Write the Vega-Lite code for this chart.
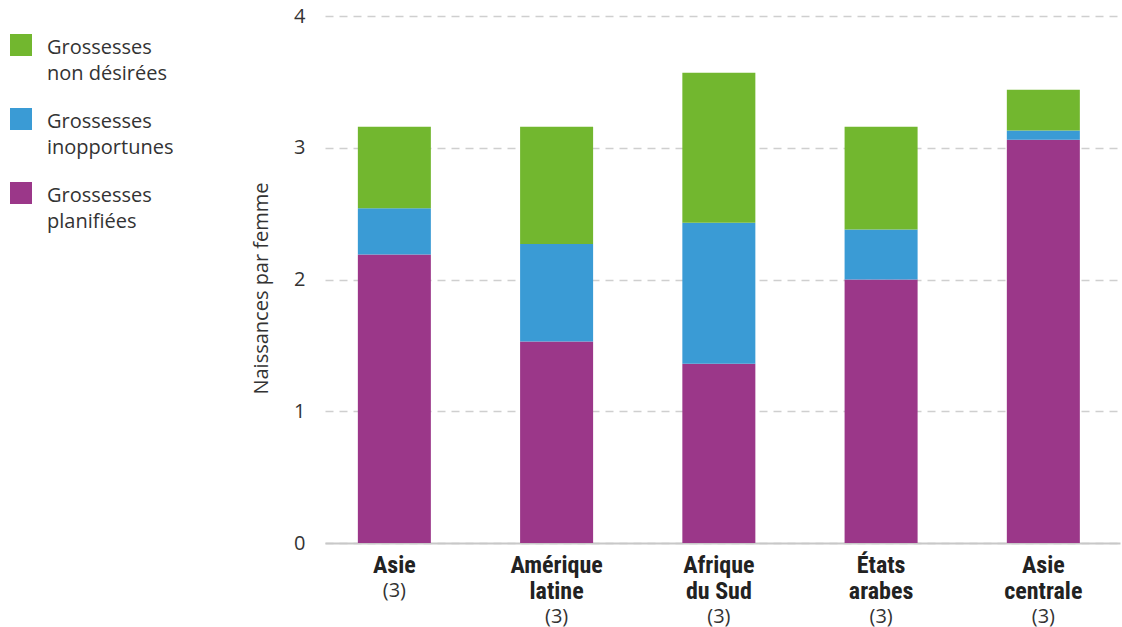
{
  "$schema": "https://vega.github.io/schema/vega-lite/v6.json",
  "autosize": "none",
  "width": 795,
  "height": 527,
  "padding": {"left": 325, "top": 16, "right": 2, "bottom": 84},
  "config": {"view": {"stroke": null}, "font": "Open Sans", "background": "white"},
  "data": {"values": [
    {"region": "Asie", "type": "Grossesses planifiées", "order": 1, "value": 2.19},
    {"region": "Asie", "type": "Grossesses inopportunes", "order": 2, "value": 0.35},
    {"region": "Asie", "type": "Grossesses non désirées", "order": 3, "value": 0.62},
    {"region": "Amérique latine", "type": "Grossesses planifiées", "order": 1, "value": 1.53},
    {"region": "Amérique latine", "type": "Grossesses inopportunes", "order": 2, "value": 0.74},
    {"region": "Amérique latine", "type": "Grossesses non désirées", "order": 3, "value": 0.89},
    {"region": "Afrique du Sud", "type": "Grossesses planifiées", "order": 1, "value": 1.36},
    {"region": "Afrique du Sud", "type": "Grossesses inopportunes", "order": 2, "value": 1.07},
    {"region": "Afrique du Sud", "type": "Grossesses non désirées", "order": 3, "value": 1.14},
    {"region": "États arabes", "type": "Grossesses planifiées", "order": 1, "value": 2.0},
    {"region": "États arabes", "type": "Grossesses inopportunes", "order": 2, "value": 0.38},
    {"region": "États arabes", "type": "Grossesses non désirées", "order": 3, "value": 0.78},
    {"region": "Asie centrale", "type": "Grossesses planifiées", "order": 1, "value": 3.06},
    {"region": "Asie centrale", "type": "Grossesses inopportunes", "order": 2, "value": 0.07},
    {"region": "Asie centrale", "type": "Grossesses non désirées", "order": 3, "value": 0.31}
  ]},
  "layer": [
    {
      "mark": {"type": "bar"},
      "encoding": {
        "x": {
          "field": "region", "type": "nominal",
          "sort": ["Asie", "Amérique latine", "Afrique du Sud", "États arabes", "Asie centrale"],
          "scale": {"paddingInner": 0.55, "paddingOuter": 0.225, "align": 0.45},
          "axis": {
            "title": null, "orient": "bottom", "labelAngle": 0,
            "domain": true, "domainColor": "#c8c8c8", "domainWidth": 2,
            "ticks": false, "grid": false,
            "labelFont": "Roboto Condensed, Lato, sans-serif",
            "labelFontWeight": "bold", "labelFontSize": 24, "labelColor": "#222",
            "labelBaseline": "top", "labelPadding": 10, "labelLineHeight": 26,
            "labelExpr": "indexof(datum.value, ' ') < 0 ? datum.value : [slice(datum.value, 0, indexof(datum.value, ' ')), slice(datum.value, indexof(datum.value, ' ') + 1)]"
          }
        },
        "y": {
          "field": "value", "type": "quantitative", "stack": "zero",
          "scale": {"domain": [0, 4], "nice": false},
          "axis": {
            "title": "Naissances par femme", "titleFontSize": 20, "titleFontWeight": "normal",
            "titleColor": "#333", "titlePadding": 22, "titleY": 272,
            "values": [0, 1, 2, 3, 4],
            "domain": false, "ticks": false,
            "grid": true, "gridDash": [8, 6], "gridColor": "#cfcfcf", "gridWidth": 1.5,
            "labelFontSize": 20, "labelColor": "#333", "labelPadding": 20
          }
        },
        "color": {
          "field": "type", "type": "nominal",
          "scale": {
            "domain": ["Grossesses non désirées", "Grossesses inopportunes", "Grossesses planifiées"],
            "range": ["#72b72f", "#3a9bd5", "#9b3789"]
          },
          "legend": {
            "title": null, "orient": "none", "legendX": -315, "legendY": 18,
            "symbolType": "square", "symbolSize": 484, "symbolStrokeWidth": 0,
            "symbolOpacity": 1,
            "labelFontSize": 20, "labelColor": "#333", "labelLimit": 300,
            "labelOffset": 15, "labelLineHeight": 26, "rowPadding": 24,
            "labelBaseline": "top",
            "labelExpr": "[slice(datum.label, 0, 10), slice(datum.label, 11)]",
            "encode": {"labels": {"update": {"dy": {"value": -7}, "lineHeight": {"value": 26}}}}
          }
        },
        "order": {"field": "order", "type": "quantitative"}
      }
    },
    {
      "mark": {"type": "tick", "opacity": 0},
      "encoding": {
        "x": {
          "field": "region", "type": "nominal",
          "sort": ["Asie", "Amérique latine", "Afrique du Sud", "États arabes", "Asie centrale"],
          "axis": {
            "title": null, "orient": "bottom", "labelAngle": 0,
            "domain": false, "ticks": false, "grid": false,
            "labelFont": "Open Sans", "labelFontWeight": "normal", "labelFontSize": 20, "labelColor": "#333",
            "labelBaseline": "top", "labelPadding": 37,
            "labelExpr": "indexof(datum.value, ' ') < 0 ? '(3)' : ''"
          }
        }
      }
    },
    {
      "mark": {"type": "tick", "opacity": 0},
      "encoding": {
        "x": {
          "field": "region", "type": "nominal",
          "sort": ["Asie", "Amérique latine", "Afrique du Sud", "États arabes", "Asie centrale"],
          "axis": {
            "title": null, "orient": "bottom", "labelAngle": 0,
            "domain": false, "ticks": false, "grid": false,
            "labelFont": "Open Sans", "labelFontWeight": "normal", "labelFontSize": 20, "labelColor": "#333",
            "labelBaseline": "top", "labelPadding": 63,
            "labelExpr": "indexof(datum.value, ' ') < 0 ? '' : '(3)'"
          }
        }
      }
    }
  ],
  "resolve": {"axis": {"x": "independent"}}
}
